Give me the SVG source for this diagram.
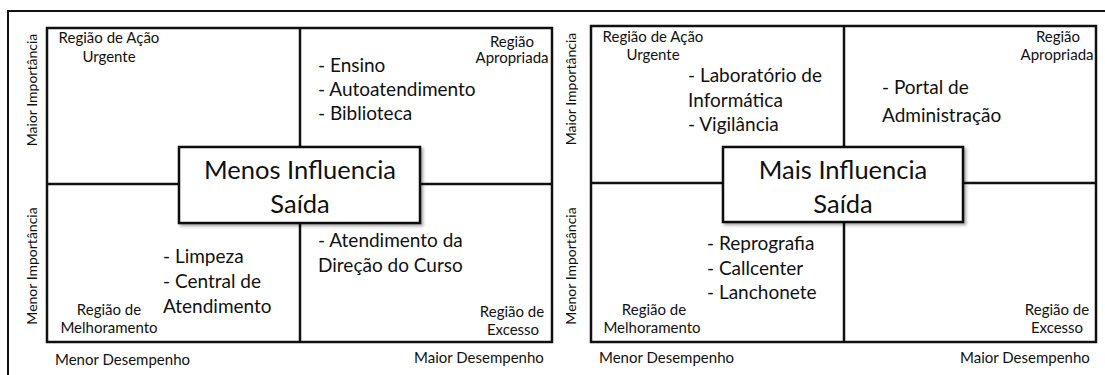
<svg xmlns="http://www.w3.org/2000/svg" width="1105" height="375" viewBox="0 0 1105 375">
<defs>
<style>
.t{font-family:Lato,"Open Sans","Liberation Sans",sans-serif;fill:#111}
.s{font-size:15px}
.r{font-size:14px}
.i{font-size:19px}
.c{font-size:25.5px}
.m{text-anchor:middle}
.ln{stroke:#111;stroke-width:2.5;fill:none}
.fr{stroke:#111;stroke-width:2;fill:none}
.box{fill:#fff;stroke:#111;stroke-width:2.5}
</style>
<filter id="sh" x="-10%" y="-10%" width="130%" height="140%">
<feDropShadow dx="2" dy="2" stdDeviation="1.5" flood-color="#000" flood-opacity="0.35"/>
</filter>
</defs>
<rect width="1105" height="375" fill="#fff"/>
<g id="frame">
<path class="fr" d="M8 375 V11 H1105"/>
</g>
<g id="connectors">
<rect class="ln" x="47" y="28" width="505" height="314"/>
<line class="ln" x1="300" y1="28" x2="300" y2="342"/>
<line class="ln" x1="47" y1="184" x2="552" y2="184"/>
<rect class="ln" x="591" y="26" width="505" height="316"/>
<line class="ln" x1="844" y1="26" x2="844" y2="342"/>
<line class="ln" x1="591" y1="183" x2="1096" y2="183"/>
</g>
<g id="left-axes">
<text class="t r m" transform="translate(37,90) rotate(-90)">Maior Importância</text>
<text class="t r m" transform="translate(37,266) rotate(-90)">Menor Importância</text>
<text class="t s" x="55" y="365">Menor Desempenho</text>
<text class="t s" x="414" y="363">Maior Desempenho</text>
</g>
<g id="left-q1">
<text class="t s m" x="109" y="43">Região de Ação</text>
<text class="t s m" x="109" y="62">Urgente</text>
</g>
<g id="left-q2">
<text class="t s m" x="512" y="47">Região</text>
<text class="t s m" x="512" y="63">Apropriada</text>
<text class="t i" x="318" y="72">- Ensino</text>
<text class="t i" x="318" y="96">- Autoatendimento</text>
<text class="t i" x="318" y="120">- Biblioteca</text>
</g>
<g id="left-q3">
<text class="t i" x="163" y="263">- Limpeza</text>
<text class="t i" x="163" y="288">- Central de</text>
<text class="t i" x="163" y="313">Atendimento</text>
<text class="t s m" x="109" y="315">Região de</text>
<text class="t s m" x="109" y="333">Melhoramento</text>
</g>
<g id="left-q4">
<text class="t i" x="318" y="247">- Atendimento da</text>
<text class="t i" x="318" y="272">Direção do Curso</text>
<text class="t s m" x="512" y="317">Região de</text>
<text class="t s m" x="513" y="335">Excesso</text>
</g>
<g id="left-center">
<rect class="box" x="179" y="147" width="241" height="76" filter="url(#sh)"/>
<text class="t c m" x="300" y="179">Menos Influencia</text>
<text class="t c m" x="300" y="213">Saída</text>
</g>
<g id="right-axes">
<text class="t r m" transform="translate(576,89) rotate(-90)">Maior Importância</text>
<text class="t r m" transform="translate(576,266) rotate(-90)">Menor Importância</text>
<text class="t s" x="599" y="363">Menor Desempenho</text>
<text class="t s" x="960" y="363">Maior Desempenho</text>
</g>
<g id="right-q1">
<text class="t s m" x="653" y="42">Região de Ação</text>
<text class="t s m" x="653" y="60">Urgente</text>
<text class="t i" x="688" y="82">- Laboratório de</text>
<text class="t i" x="688" y="107">Informática</text>
<text class="t i" x="688" y="131">- Vigilância</text>
</g>
<g id="right-q2">
<text class="t s m" x="1058" y="42">Região</text>
<text class="t s m" x="1057" y="60">Apropriada</text>
<text class="t i" x="882" y="94">- Portal de</text>
<text class="t i" x="882" y="122">Administração</text>
</g>
<g id="right-q3">
<text class="t i" x="707" y="250">- Reprografia</text>
<text class="t i" x="707" y="275">- Callcenter</text>
<text class="t i" x="707" y="299">- Lanchonete</text>
<text class="t s m" x="654" y="315">Região de</text>
<text class="t s m" x="652" y="333">Melhoramento</text>
</g>
<g id="right-q4">
<text class="t s m" x="1057" y="315">Região de</text>
<text class="t s m" x="1057" y="333">Excesso</text>
</g>
<g id="right-center">
<rect class="box" x="723" y="147" width="240" height="75" filter="url(#sh)"/>
<text class="t c m" x="843" y="179">Mais Influencia</text>
<text class="t c m" x="843" y="213">Saída</text>
</g>
</svg>
